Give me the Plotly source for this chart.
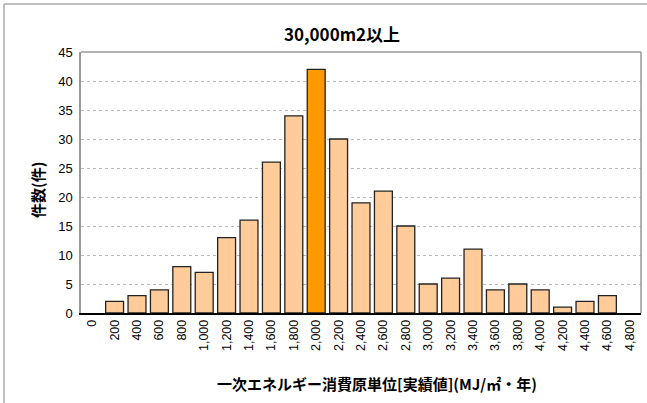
import plotly.graph_objects as go

categories = ["0", "200", "400", "600", "800", "1,000", "1,200", "1,400", "1,600", "1,800",
              "2,000", "2,200", "2,400", "2,600", "2,800", "3,000", "3,200", "3,400", "3,600",
              "3,800", "4,000", "4,200", "4,400", "4,600", "4,800"]
counts = [0, 2, 3, 4, 8, 7, 13, 16, 26, 34, 42, 30, 19, 21, 15, 5, 6, 11, 4, 5, 4, 1, 2, 3, 0]
highlight = "2,000"
y_ticks = [0, 5, 10, 15, 20, 25, 30, 35, 40, 45]

title_text = "30,000m2以上"
x_title = "一次エネルギー消費原単位[実績値](MJ/㎡・年)"
y_title = "件数(件)"

colors = ["#FF9900" if c == highlight else "#FFCC99" for c in categories]
line_widths = [1.3 if v > 0 else 0 for v in counts]

jp = "Noto Sans CJK JP"
num = "Liberation Sans, Arial, sans-serif"

fig = go.Figure(go.Bar(
    x=categories, y=counts,
    marker=dict(color=colors, line=dict(color="#222222", width=line_widths)),
    hoverinfo="x+y",
))

fig.update_layout(
    width=647, height=403,
    margin=dict(l=81, r=6, t=52, b=90),
    paper_bgcolor="white", plot_bgcolor="white",
    bargap=0.2,
    showlegend=False,
    xaxis=dict(
        type="category", tickangle=-90, ticks="",
        tickfont=dict(family=num, size=12.5, color="black"),
        showline=True, linecolor="black", linewidth=1.5,
        mirror=False, showgrid=False, zeroline=False,
        range=[-0.5, len(categories) - 0.5],
    ),
    yaxis=dict(
        range=[0, 45], tickvals=y_ticks, ticks="",
        tickfont=dict(family=num, size=13, color="black"),
        showgrid=True, gridcolor="#B8B8B8", gridwidth=1, griddash="dot",
        showline=True, linecolor="#999999", linewidth=1.5,
        zeroline=False, ticklabelstandoff=4,
    ),
    annotations=[
        dict(text="<b>" + title_text + "</b>", xref="paper", yref="paper",
             x=(342 - 81) / 560, y=(313 - 33) / 261, xanchor="center", yanchor="middle",
             showarrow=False, font=dict(family=jp, size=17, color="black")),
        dict(text="<b>" + x_title + "</b>", xref="paper", yref="paper",
             x=(377 - 81) / 560, y=(313 - 383) / 261, xanchor="center", yanchor="middle",
             showarrow=False, font=dict(family=jp, size=15, color="black")),
        dict(text="<b>" + y_title + "</b>", xref="paper", yref="paper",
             x=(37 - 81) / 560, y=(313 - 190) / 261, xanchor="center", yanchor="middle",
             textangle=-90, showarrow=False, font=dict(family=jp, size=15, color="black")),
    ],
    shapes=[
        dict(type="line", xref="paper", yref="paper", x0=0, x1=1, y0=1, y1=1,
             line=dict(color="#999999", width=1.5)),
        dict(type="line", xref="paper", yref="paper", x0=1, x1=1, y0=0, y1=1,
             line=dict(color="#999999", width=1.5)),
        dict(type="line", xref="paper", yref="paper",
             x0=(4 - 81) / 560, x1=(647 - 81) / 560, y0=(313 - 4) / 261, y1=(313 - 4) / 261,
             line=dict(color="#AAAAAA", width=1.5)),
        dict(type="line", xref="paper", yref="paper",
             x0=(4 - 81) / 560, x1=(4 - 81) / 560, y0=(313 - 4) / 261, y1=(313 - 403) / 261,
             line=dict(color="#AAAAAA", width=1.5)),
    ],
)

fig.write_html("out.html", config={"displayModeBar": False},
               post_script="document.body.style.margin='0';document.body.style.overflow='hidden';")
